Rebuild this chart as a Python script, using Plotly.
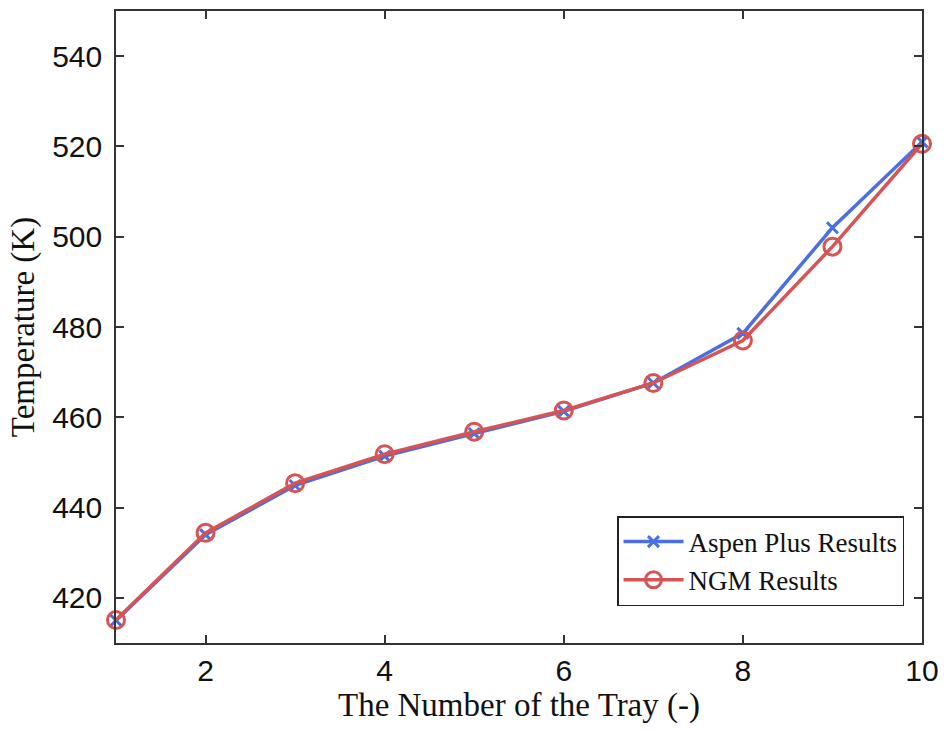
import plotly.graph_objects as go

trays = [1, 2, 3, 4, 5, 6, 7, 8, 9, 10]
aspen = [415.0, 434.0, 444.9, 451.4, 456.4, 461.3, 467.6, 478.6, 502.0, 521.0]
ngm = [415.1, 434.4, 445.4, 451.8, 456.8, 461.5, 467.6, 477.0, 497.8, 520.6]
xticks = [2, 4, 6, 8, 10]
yticks = [420, 440, 460, 480, 500, 520, 540]

blue = "#4A6FE3"
red = "#D65454"

fig = go.Figure()
fig.add_trace(go.Scatter(
    x=trays, y=aspen, name="Aspen Plus Results", mode="lines+markers",
    line=dict(color=blue, width=3.5),
    marker=dict(symbol="x-thin-open", size=11, line=dict(color=blue, width=3)),
    cliponaxis=False,
))
fig.add_trace(go.Scatter(
    x=trays, y=ngm, name="NGM Results", mode="lines+markers",
    line=dict(color=red, width=3.5),
    marker=dict(symbol="circle-open", size=17, color=red, line=dict(color=red, width=3)),
    cliponaxis=False,
))

axis_common = dict(
    showline=True, linecolor="#333333", linewidth=1.5, mirror="ticks",
    ticks="inside", ticklen=8, tickwidth=1.5, tickcolor="#333333",
    showgrid=False, zeroline=False, automargin=False,
    tickfont=dict(family="Liberation Sans, Arial", size=30, color="#111111"),
)

fig.update_xaxes(
    range=[1, 10], tickvals=xticks, ticktext=[str(v) for v in xticks],
    title=dict(text="The Number of the Tray (-)", standoff=6,
               font=dict(family="Liberation Serif, Times New Roman", size=33, color="#111111")),
    **axis_common,
)
fig.update_yaxes(
    range=[410, 550], tickvals=yticks, ticktext=[str(v) for v in yticks],
    ticklabelstandoff=6,
    title=dict(text="Temperature (K)", standoff=8,
               font=dict(family="Liberation Serif, Times New Roman", size=33, color="#111111")),
    **axis_common,
)

fig.update_layout(
    width=944, height=731,
    margin=dict(l=116, r=22, t=11, b=88),
    paper_bgcolor="white", plot_bgcolor="white",
    showlegend=True,
    legend=dict(
        x=0.9777, y=0.0585, xanchor="right", yanchor="bottom",
        bgcolor="white", bordercolor="#222222", borderwidth=1.5,
        font=dict(family="Liberation Serif, Times New Roman", size=27, color="#111111"),
        tracegroupgap=0, itemwidth=60,
    ),
)

fig.write_html("out.html")
